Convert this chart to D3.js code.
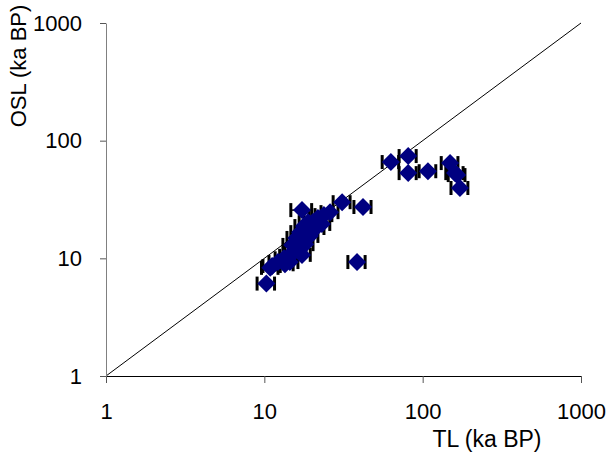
<!DOCTYPE html>
<html lang="en">
<head>
    <meta charset="UTF-8">
    <title>OSL vs TL ages</title>
    <script src="https://d3js.org/d3.v7.min.js"></script>
    <style>
        body { margin: 0; background: #fff; }
        text { font-family: "Liberation Sans", Arial, sans-serif; }
    </style>
</head>
<body>
    <script>
        // TL age, OSL age and the TL error (ka BP)
        const tlAges = [10.3, 10.9, 11.2, 12.2, 13.5, 13.3, 14.3, 14.5, 15.4, 17.3, 16.3, 18.1, 15.0, 15.9, 19.4, 16.8, 17.8, 21.2, 18.9, 20.3, 23.1, 21.8, 23.8, 26.0, 17.3, 31, 42, 38.5, 63, 81, 81, 108, 149, 160, 165, 172];
        const oslAges = [6.1, 8.3, 8.6, 9.3, 8.9, 10.0, 10.5, 9.3, 11.3, 10.7, 12.2, 13.2, 13.0, 14.9, 15.5, 16.7, 18.8, 18.1, 20.3, 20.4, 19.6, 22.0, 23.3, 24.7, 25.7, 30, 27.3, 9.3, 65.8, 74, 53, 55, 64.5, 53, 51, 39.6];
        const tlErrors = [1.3, 1.3, 1.4, 1.5, 1.7, 1.6, 1.8, 1.8, 1.9, 2.2, 2.0, 2.2, 1.9, 2.0, 2.4, 2.1, 2.2, 2.6, 2.3, 2.5, 2.8, 2.7, 2.9, 3.2, 2.6, 3.8, 5.2, 4.8, 7.5, 10, 10, 13, 18, 20, 20, 21];
        const tickValues = [1, 10, 100, 1000];

        const width = 608, height = 452;
        const svg = d3.select("body").append("svg")
            .attr("width", width)
            .attr("height", height);

        const x = d3.scaleLog().domain([1, 1000]).range([106, 581]);
        const y = d3.scaleLog().domain([1, 1000]).range([376, 23]);

        const points = tlAges.map((tl, i) => ({ tl: tl, osl: oslAges[i], err: tlErrors[i] }));

        // 1:1 line
        svg.append("line")
            .attr("x1", x(1)).attr("y1", y(1))
            .attr("x2", x(1000)).attr("y2", y(1000))
            .attr("stroke", "#000")
            .attr("stroke-width", 1);

        // axes
        const xAxis = svg.append("g")
            .attr("transform", `translate(0,${y(1)})`)
            .call(d3.axisBottom(x).tickValues(tickValues).tickFormat(d3.format("d"))
                .tickSize(7).tickSizeOuter(0).tickPadding(20));
        xAxis.select(".domain").attr("stroke", "#000");
        xAxis.selectAll(".tick line").attr("stroke", "#555");

        const yAxis = svg.append("g")
            .attr("transform", `translate(${x(1)},0)`)
            .call(d3.axisLeft(y).tickValues(tickValues).tickFormat(d3.format("d"))
                .tickSize(6).tickSizeOuter(0).tickPadding(18));
        yAxis.select(".domain").attr("stroke", "#808080");
        yAxis.selectAll(".tick line").attr("stroke", "#555");

        svg.selectAll(".tick text")
            .attr("fill", "#000")
            .style("font-size", "22px")
            .style("font-family", "'Liberation Sans', Arial, sans-serif");

        // error bars underneath, diamonds on top
        const bars = svg.append("g").selectAll("g")
            .data(points)
            .join("g");

        bars.append("line")
            .attr("x1", d => x(d.tl - d.err)).attr("x2", d => x(d.tl + d.err))
            .attr("y1", d => y(d.osl)).attr("y2", d => y(d.osl))
            .attr("stroke", "#000").attr("stroke-width", 1.5);

        bars.selectAll("line.cap")
            .data(d => [d.tl - d.err, d.tl + d.err].map(v => ({ v: v, osl: d.osl })))
            .join("line")
            .attr("class", "cap")
            .attr("x1", c => x(c.v)).attr("x2", c => x(c.v))
            .attr("y1", c => y(c.osl) - 7).attr("y2", c => y(c.osl) + 7)
            .attr("stroke", "#000").attr("stroke-width", 3);

        svg.append("g").selectAll("path")
            .data(points)
            .join("path")
            .attr("transform", d => `translate(${x(d.tl)},${y(d.osl)})`)
            .attr("d", "M0,-9L9,0L0,9L-9,0Z")
            .attr("fill", "#000080");

        // axis titles
        svg.append("text")
            .attr("x", 487).attr("y", 447)
            .attr("text-anchor", "middle")
            .style("font-size", "23px")
            .text("TL (ka BP)");

        svg.append("text")
            .attr("transform", "translate(26,66) rotate(-90)")
            .attr("text-anchor", "middle")
            .style("font-size", "22px")
            .text("OSL (ka BP)");
    </script>
</body>
</html>
